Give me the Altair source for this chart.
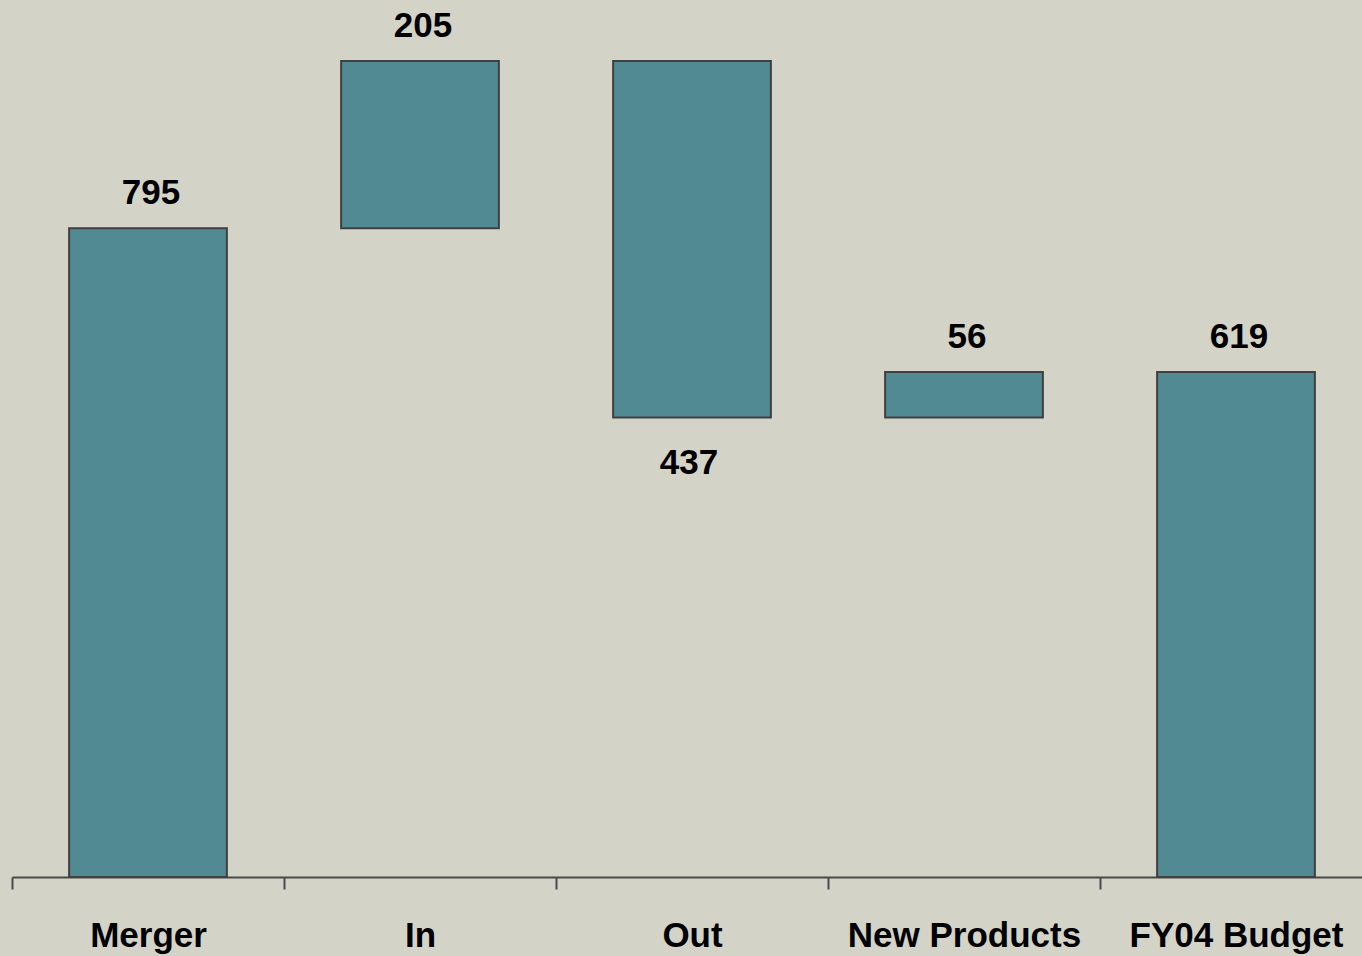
import altair as alt
import pandas as pd

categories = ["Merger", "In", "Out", "New Products", "FY04 Budget"]
changes = [795, 205, -437, 56, 619]
is_total = [True, False, False, False, True]

starts, ends = [], []
running = 0
for c, t in zip(changes, is_total):
    if t:
        s, e = 0, c
        running = c
    else:
        s, e = running, running + c
        running = e
    starts.append(s)
    ends.append(e)

df = pd.DataFrame({
    "cat": categories,
    "start": starts,
    "end": ends,
    "label": [str(abs(c)) for c in changes],
    "neg": [c < 0 for c in changes],
})

BG = "#D3D3C7"
BAR = "#528A93"
EDGE = "#404040"
FONT = "Liberation Sans"
FS = 35

xscale = alt.Scale(paddingInner=0.42, paddingOuter=0.21, range=[0, 1360])
yscale = alt.Scale(domain=[0, 1074.75], nice=False, zero=False)

x = alt.X("cat:N", sort=categories, scale=xscale, title=None,
          axis=alt.Axis(labelAngle=0, labelFont=FONT, labelFontSize=FS,
                        labelFontWeight="bold", labelColor="black",
                        labelBaseline="alphabetic", labelPadding=57,
                        labelLimit=0, labelOffset=136, tickOffset=-136,
                        domainColor="#4a4a4a", domainWidth=2,
                        tickColor="#4a4a4a", tickWidth=2, tickSize=12,
                        grid=False))

base = alt.Chart(df)

bars = base.mark_bar(color=BAR, stroke=EDGE, strokeWidth=2).encode(
    x=x,
    y=alt.Y("start:Q", scale=yscale, axis=None),
    y2="end:Q",
)

top_labels = base.transform_filter("!datum.neg").transform_calculate(
    top="max(datum.start, datum.end)"
).mark_text(font=FONT, fontSize=FS, fontWeight="bold", color="black",
            baseline="alphabetic", dy=-24, dx=3).encode(
    x=alt.X("cat:N", sort=categories, scale=xscale),
    y=alt.Y("top:Q", scale=yscale),
    text="label:N",
)

bottom_labels = base.transform_filter("datum.neg").transform_calculate(
    bot="min(datum.start, datum.end)"
).mark_text(font=FONT, fontSize=FS, fontWeight="bold", color="black",
            baseline="alphabetic", dy=56, dx=-3).encode(
    x=alt.X("cat:N", sort=categories, scale=xscale),
    y=alt.Y("bot:Q", scale=yscale),
    text="label:N",
)

chart = alt.layer(bars, top_labels, bottom_labels).properties(
    width=1350, height=877,
    background=BG,
    autosize=alt.AutoSizeParams(type="none"),
    padding={"left": 12, "top": 0, "right": 0, "bottom": 79},
).configure_view(stroke=None)

chart.save("out.html", embed_options={"renderer": "svg", "actions": False})
